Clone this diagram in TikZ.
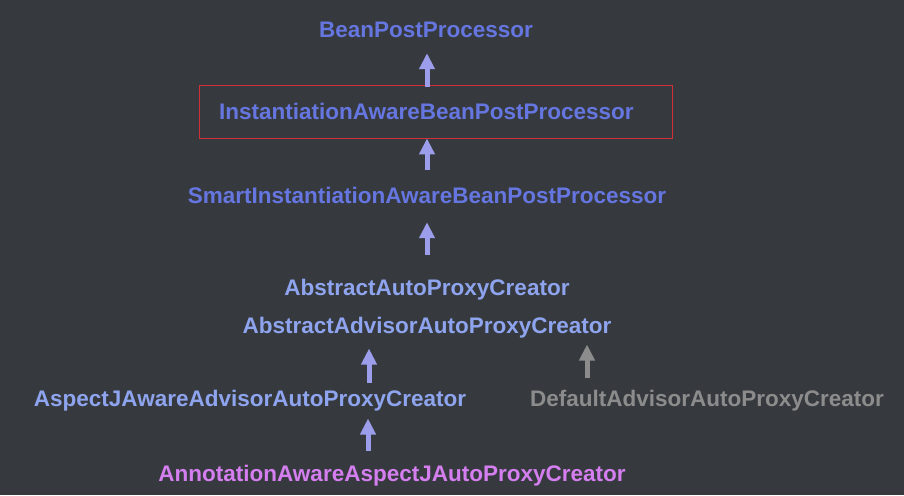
\documentclass[tikz,border=0pt]{standalone}
\usepackage{fontspec}
\setmainfont{Liberation Sans}
\usetikzlibrary{arrows.meta}

\definecolor{bgcol}{HTML}{363A3F}
\definecolor{deepblue}{HTML}{6676E0}
\definecolor{paleblue}{HTML}{8FA4EE}
\definecolor{arrowblue}{HTML}{9C9EEB}
\definecolor{greytext}{HTML}{8C8C8C}
\definecolor{pinktext}{HTML}{D47EEF}
\definecolor{boxred}{HTML}{D0303A}

\tikzset{
  cls/.style={font=\fontsize{22.5}{27}\selectfont\bfseries, inner sep=0pt,
    text height=17pt, text depth=5pt, anchor=base},
  up/.style={line width=5pt, -{Triangle[width=15pt,length=16pt]}},
}

\begin{document}
\begin{tikzpicture}[x=1pt,y=-1pt]
\fill[bgcol] (0,0) rectangle (904,495);
% interfaces
\node[cls, text=deepblue] (bpp) at (426,37.5) {BeanPostProcessor};
\node[cls, text=deepblue, draw=boxred, line width=0.8pt, anchor=center,
  text width=433pt, inner xsep=20pt, minimum height=53pt, text depth=2pt]
  (iabpp) at (435.5,111.5) {InstantiationAwareBeanPostProcessor};
\node[cls, text=deepblue] (siabpp) at (427,203.5) {SmartInstantiationAwareBeanPostProcessor};
% creators
\node[cls, text=paleblue] (aapc) at (427,295) {AbstractAutoProxyCreator};
\node[cls, text=paleblue] (aadvapc) at (427,333) {AbstractAdvisorAutoProxyCreator};
\node[cls, text=paleblue] (ajaapc) at (250,406) {AspectJAwareAdvisorAutoProxyCreator};
\node[cls, text=greytext] (daapc) at (707,406) {DefaultAdvisorAutoProxyCreator};
\node[cls, text=pinktext] (aaajapc) at (392,481) {AnnotationAwareAspectJAutoProxyCreator};
% arrows
\draw[up, arrowblue, shorten <=-2pt, shorten >=10.5pt] ([xshift=-8.5pt]iabpp.north) -- ([xshift=1pt]bpp.south);
\draw[up, arrowblue, shorten <=16pt] (siabpp.north) -- ([xshift=-8.5pt]iabpp.south);
\draw[up, arrowblue, shorten <=23pt, shorten >=13.5pt] (aapc.north) -- (siabpp.south);
\draw[up, arrowblue, shorten <=6.3pt, shorten >=10.3pt] ([xshift=119pt]ajaapc.north) -- ([xshift=-58pt]aadvapc.south);
\draw[up, greytext, shorten <=10.7pt, shorten >=6.3pt] ([xshift=-120pt]daapc.north) -- ([xshift=160pt]aadvapc.south);
\draw[up, arrowblue, shorten <=13pt, shorten >=7.3pt] ([xshift=-24pt]aaajapc.north) -- ([xshift=118pt]ajaapc.south);
\end{tikzpicture}
\end{document}
